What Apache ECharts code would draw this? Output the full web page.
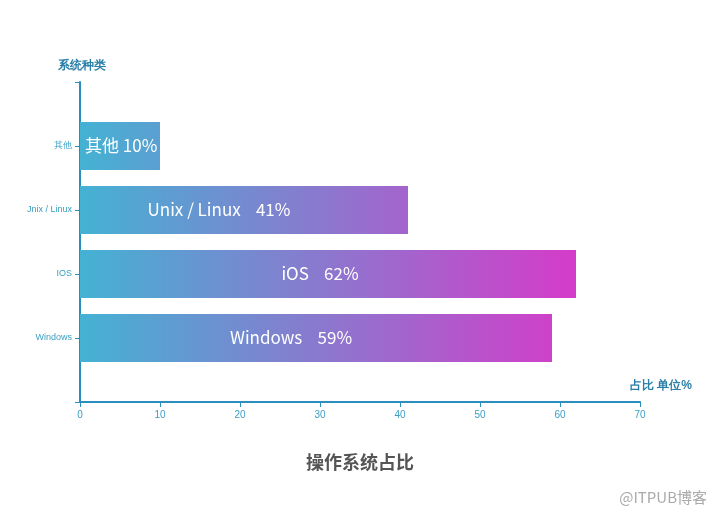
<!DOCTYPE html><html><head><meta charset="utf-8"><script src="https://cdn.jsdelivr.net/npm/echarts@6/dist/echarts.min.js"></script></head><body style="margin:0;background:#fff"><div id="c" style="width:720px;height:511px"></div><script>
var categories=['','Windows','IOS','Jnix / Linux','其他',''];
var values=[null,59,62,41,10,null];
var labels=['','Windows    59%','iOS    62%','Unix / Linux    41%','其他 10%',''];
var xTicks=[0,10,20,30,40,50,60,70];
var ch=echarts.init(document.getElementById('c'));
var ac='#2a8fc0';
var lbl={show:true,position:'inside',color:'#fff',fontSize:17,fontFamily:'Noto Sans CJK SC',formatter:function(p){return labels[p.dataIndex]}};
function item(i,off,pos){return {value:values[i],label:Object.assign({},lbl,{offset:[off,0],position:pos||'inside'})};}
ch.setOption({
 title:[{text:'操作系统占比',left:'center',top:448,textStyle:{fontSize:18,fontWeight:'bold',color:'#555',fontFamily:'Noto Sans CJK SC'}},
  {text:'@ITPUB博客',right:8,top:485,textStyle:{fontSize:15,fontWeight:'normal',color:'#aaa',fontFamily:'Noto Sans CJK SC'}}],
 grid:{left:80,right:80,top:82,bottom:109},
 xAxis:{type:'value',min:0,max:70,interval:10,name:'占比 单位%',nameLocation:'end',nameGap:-10,
  nameTextStyle:{color:'#2a7fa8',fontSize:12,fontWeight:'bold',padding:[0,0,10,0],verticalAlign:'bottom'},
  axisLine:{show:true,lineStyle:{color:ac,width:2}},axisTick:{show:true,lineStyle:{color:ac}},
  splitLine:{show:false},axisLabel:{color:'#3a9fc0',fontSize:10,formatter:function(v){return xTicks.indexOf(v)>=0?v:''}}},
 yAxis:{type:'category',data:categories,boundaryGap:false,name:'系统种类',nameLocation:'end',nameGap:10,
  nameTextStyle:{color:'#2a7fa8',fontSize:12,fontWeight:'bold',align:'right',padding:[0,-26,0,0]},
  axisLine:{lineStyle:{color:ac,width:2}},axisTick:{show:true,lineStyle:{color:ac}},
  axisLabel:{color:'#3a9fc0',fontSize:9}},
 series:[{type:'bar',barWidth:48,
  data:[null,item(1,-25),item(2,-8),item(3,-25),item(4,0,'insideLeft'),null],
  itemStyle:{color:new echarts.graphic.LinearGradient(80,0,640,0,[{offset:0,color:'#44b2d3'},{offset:1,color:'#e82cc8'}],true)},
  label:lbl}]
});
</script></body></html>
